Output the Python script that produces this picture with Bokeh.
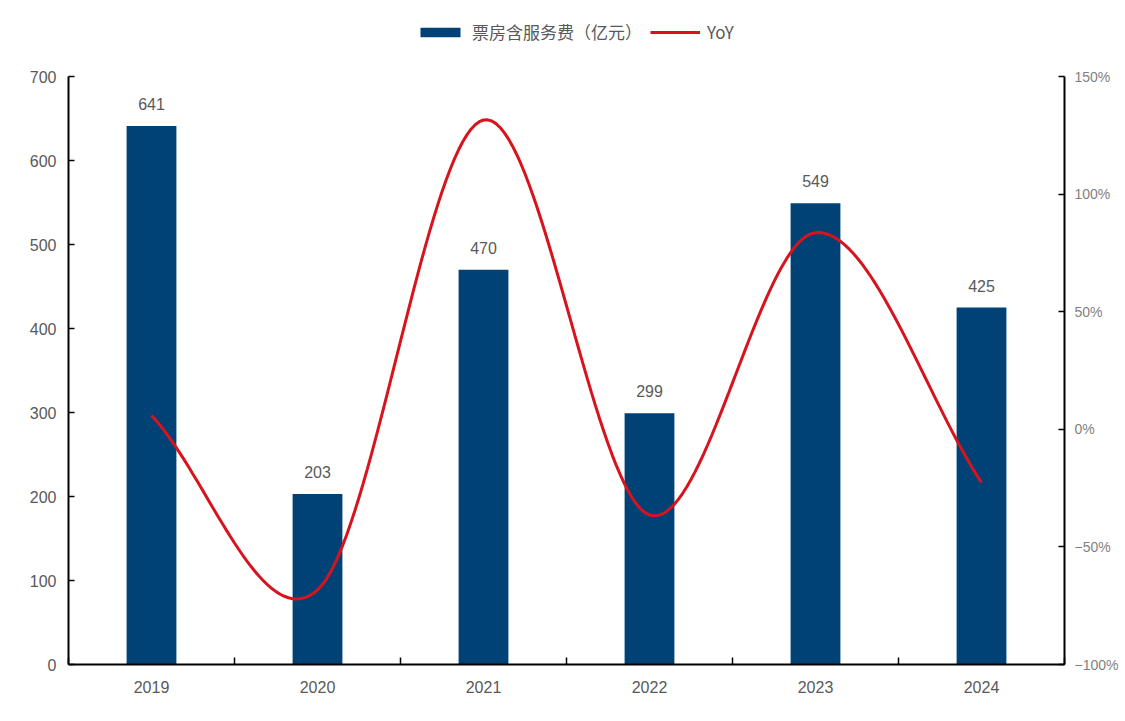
import numpy as np
from bokeh.plotting import figure
from bokeh.models import (Range1d, LinearAxis, FixedTicker, Legend, LegendItem,
                          ColumnDataSource, CustomJSTickFormatter)
from bokeh.core.properties import value
from bokeh.embed import file_html
from bokeh.resources import INLINE

years = ["2019", "2020", "2021", "2022", "2023", "2024"]
box_office = [641, 203, 470, 299, 549, 425]
yoy = [0.059, -0.683, 1.315, -0.364, 0.836, -0.226]
left_ticks = [0, 100, 200, 300, 400, 500, 600, 700]
right_ticks = [-1.0, -0.5, 0.0, 0.5, 1.0, 1.5]

BAR = "#004276"
RED = "#D7141E"
GREY = "#595959"

x = np.arange(len(years), dtype=float)

# smooth (Catmull-Rom) rendering of the YoY series
def catmull_rom(xs, ys, n=40):
    px = np.concatenate([[2 * xs[0] - xs[1]], xs, [2 * xs[-1] - xs[-2]]])
    py = np.concatenate([[2 * ys[0] - ys[1]], ys, [2 * ys[-1] - ys[-2]]])
    ox, oy = [], []
    for i in range(1, len(px) - 2):
        t = np.linspace(0, 1, n, endpoint=(i == len(px) - 3))
        for arr, out in ((px, ox), (py, oy)):
            p0, p1, p2, p3 = arr[i - 1], arr[i], arr[i + 1], arr[i + 2]
            out.extend(0.5 * ((2 * p1) + (-p0 + p2) * t +
                              (2 * p0 - 5 * p1 + 4 * p2 - p3) * t ** 2 +
                              (-p0 + 3 * p1 - 3 * p2 + p3) * t ** 3))
    return np.array(ox), np.array(oy)

sx, sy = catmull_rom(x, np.array(yoy))

TOP, BOTTOM = 10, 57
H = 721
frame_h = H - TOP - BOTTOM          # 654
axis_px = 588                       # pixels used by 0..700 / -100%..150%
y_top = 700 * frame_h / axis_px
pct_top = -1.0 + 2.5 * frame_h / axis_px

p = figure(width=1125, height=H, output_backend="svg", toolbar_location=None,
           x_range=Range1d(-0.5, 5.5), y_range=Range1d(0, y_top),
           min_border_left=68, min_border_right=61, min_border_top=TOP, min_border_bottom=BOTTOM)
p.outline_line_color = None
p.grid.visible = False
p.background_fill_color = "white"
p.border_fill_color = "white"

p.extra_y_ranges = {"pct": Range1d(-1.0, pct_top)}

src = ColumnDataSource(dict(x=x, v=box_office, lab=[str(v) for v in box_office]))
bars = p.vbar(x="x", top="v", width=0.3, source=src, fill_color=BAR, line_color=None)
p.text(x="x", y="v", text="lab", source=src, text_align="center", text_baseline="bottom",
       y_offset=-16, text_font_size="16px", text_color=GREY, text_font=value("Liberation Sans"))

line = p.line(sx, sy, y_range_name="pct", line_color=RED, line_width=3)

# x axis
xa = p.xaxis[0]
xa.ticker = FixedTicker(ticks=list(x), minor_ticks=list(np.arange(-0.5, 6.0, 1.0)))
xa.major_label_overrides = {int(i): y for i, y in enumerate(years)}
xa.major_tick_in = 0
xa.major_tick_out = 0
xa.minor_tick_in = 7
xa.minor_tick_out = 0
xa.axis_line_width = 2
xa.axis_line_color = "black"
xa.minor_tick_line_width = 1.5
xa.minor_tick_line_color = "black"
xa.major_label_text_font_size = "16px"
xa.major_label_text_color = GREY
xa.major_label_text_font = "Liberation Sans"
xa.major_label_standoff = 16

# left axis
ya = p.yaxis[0]
ya.ticker = FixedTicker(ticks=left_ticks)
ya.bounds = (0, 700)
ya.major_tick_in = 6
ya.major_tick_out = 0
ya.minor_tick_in = 0
ya.minor_tick_out = 0
ya.axis_line_width = 2
ya.axis_line_color = "black"
ya.major_tick_line_width = 1.5
ya.major_label_text_font_size = "16px"
ya.major_label_text_color = GREY
ya.major_label_text_font = "Liberation Sans"
ya.major_label_standoff = 12

# right axis
ra = LinearAxis(y_range_name="pct", ticker=FixedTicker(ticks=right_ticks), bounds=(-1.0, 1.5))
ra.formatter = CustomJSTickFormatter(code="""
const v = Math.round(tick*100);
return (v < 0 ? '\u2212' + Math.abs(v) : v) + '%';
""")
ra.major_tick_in = 6
ra.major_tick_out = 0
ra.minor_tick_in = 0
ra.minor_tick_out = 0
ra.axis_line_width = 2
ra.axis_line_color = "black"
ra.major_tick_line_width = 1.5
ra.major_label_text_font_size = "14px"
ra.major_label_text_color = "#7f7f7f"
ra.major_label_text_font = "Liberation Sans"
ra.major_label_standoff = 10
p.add_layout(ra, "right")

legend = Legend(items=[LegendItem(label="票房含服务费（亿元）", renderers=[bars]),
                       LegendItem(label="YoY", renderers=[line])],
                location=(347, 620), orientation="horizontal",
                glyph_width=50, glyph_height=12, label_standoff=7, spacing=8,
                padding=0, margin=0, border_line_color=None, background_fill_alpha=0,
                label_text_font="Noto Sans CJK SC", label_text_font_size="17px",
                label_text_color=GREY, label_height=20)
p.add_layout(legend, "center")

open("out.html", "w").write(file_html(p, INLINE))
